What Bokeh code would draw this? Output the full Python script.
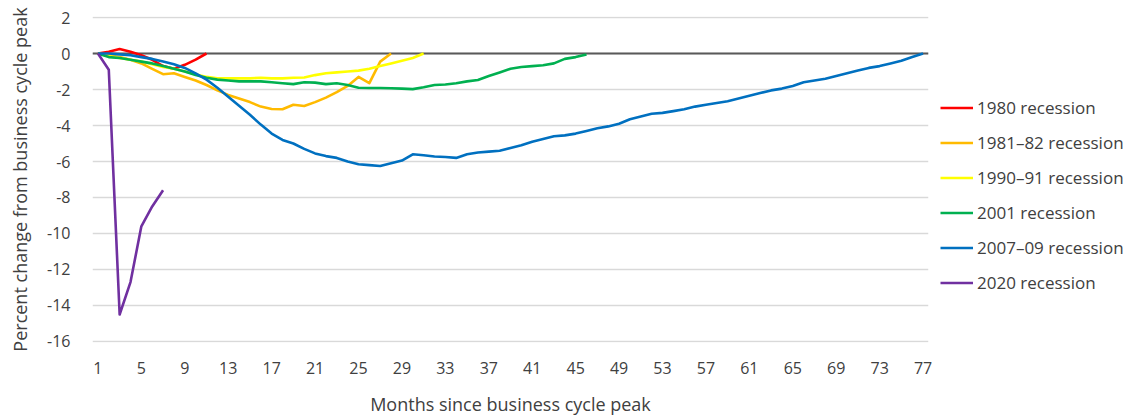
from bokeh.plotting import figure
from bokeh.models import Span, FixedTicker, Legend, LegendItem, Range1d
from bokeh.embed import file_html
from bokeh.resources import INLINE

# ---- data: percent change from business-cycle peak, by month since peak ----
rec_1980 = [0, 0.1, 0.25, 0.1, -0.1, -0.35, -0.7, -0.85, -0.63, -0.34, 0.0]
rec_1981 = [0, -0.1, -0.2, -0.35, -0.55, -0.85, -1.15, -1.1, -1.3, -1.5,
            -1.75, -2.05, -2.3, -2.5, -2.7, -2.95, -3.08, -3.1, -2.85, -2.92,
            -2.7, -2.45, -2.15, -1.8, -1.3, -1.65, -0.45, 0.0]
rec_1990 = [0, -0.15, -0.25, -0.35, -0.45, -0.6, -0.75, -0.85, -1.0, -1.15,
            -1.3, -1.38, -1.38, -1.38, -1.38, -1.35, -1.38, -1.38, -1.35, -1.33,
            -1.2, -1.1, -1.05, -1.0, -0.95, -0.85, -0.7, -0.55, -0.4, -0.25, 0.0]
rec_2001 = [0, -0.2, -0.25, -0.35, -0.45, -0.55, -0.7, -0.85, -1.0, -1.2,
            -1.35, -1.45, -1.5, -1.55, -1.55, -1.55, -1.6, -1.65, -1.7, -1.6,
            -1.62, -1.7, -1.65, -1.75, -1.9, -1.92, -1.92, -1.93, -1.95, -1.98,
            -1.88, -1.75, -1.72, -1.65, -1.55, -1.47, -1.25, -1.05, -0.85, -0.75,
            -0.7, -0.65, -0.55, -0.3, -0.2, -0.05]
rec_2007 = [0, 0.0, -0.05, -0.1, -0.2, -0.3, -0.45, -0.6, -0.8, -1.1,
            -1.45, -1.9, -2.4, -2.9, -3.4, -3.95, -4.45, -4.8, -5.0, -5.3,
            -5.55, -5.7, -5.8, -6.0, -6.15, -6.2, -6.25, -6.1, -5.95, -5.6,
            -5.65, -5.72, -5.75, -5.8, -5.6, -5.5, -5.45, -5.4, -5.25, -5.1,
            -4.9, -4.75, -4.6, -4.55, -4.45, -4.3, -4.15, -4.05, -3.9, -3.65,
            -3.5, -3.35, -3.3, -3.2, -3.1, -2.95, -2.85, -2.75, -2.65, -2.5,
            -2.35, -2.2, -2.05, -1.95, -1.8, -1.6, -1.5, -1.4, -1.25, -1.1,
            -0.95, -0.8, -0.7, -0.55, -0.4, -0.2, 0.0]
rec_2020 = [0, -0.9, -14.5, -12.7, -9.6, -8.5, -7.6]

series_names = ["1980 recession", "1981\u201382 recession", "1990\u201391 recession",
                "2001 recession", "2007\u201309 recession", "2020 recession"]
series_values = [rec_1980, rec_1981, rec_1990, rec_2001, rec_2007, rec_2020]
series_colors = ["#FF0000", "#FFBA00", "#FFFF00", "#00B050", "#0070C0", "#7030A0"]

x_ticks = list(range(1, 78, 4))
y_ticks = list(range(-16, 3, 2))

FONT = "Open Sans"
TXT = "#404040"

p = figure(frame_width=836, frame_height=326, output_backend="svg",
           toolbar_location=None,
           x_range=Range1d(0.5, 77.5), y_range=Range1d(-16.0556, 2.0556),
           min_border_left=92, min_border_right=200, min_border_top=16,
           min_border_bottom=72)
p.outline_line_color = None
p.background_fill_color = "white"

p.xgrid.grid_line_color = None
p.ygrid.ticker = FixedTicker(ticks=y_ticks)
p.ygrid.grid_line_color = "#D9D9D9"
p.ygrid.grid_line_width = 1.5

for ax in (p.xaxis[0], p.yaxis[0]):
    ax.axis_line_color = None
    ax.major_tick_line_color = None
    ax.minor_tick_line_color = None
    ax.major_label_text_font = FONT
    ax.major_label_text_font_size = "16px"
    ax.major_label_text_color = TXT
    ax.axis_label_text_font = FONT
    ax.axis_label_text_font_size = "18px"
    ax.axis_label_text_font_style = "normal"
    ax.axis_label_text_color = TXT

p.xaxis.ticker = FixedTicker(ticks=x_ticks)
p.xaxis.major_label_standoff = 13
p.xaxis.axis_label = "Months since business cycle peak"
p.xaxis.axis_label_standoff = 15

p.yaxis.ticker = FixedTicker(ticks=y_ticks)
p.yaxis.major_label_overrides = {v: str(v) for v in y_ticks}
p.yaxis.major_label_standoff = 16
p.yaxis.axis_label = "Percent change from business cycle peak"
p.yaxis.axis_label_standoff = 12

zero = Span(location=0, dimension="width", line_color="#595959", line_width=2,
            level="underlay")
p.add_layout(zero)

items = []
for name, vals, col in zip(series_names, series_values, series_colors):
    months = list(range(1, len(vals) + 1))
    r = p.line(months, vals, line_color=col, line_width=2.6, line_join="round")
    items.append(LegendItem(label=name, renderers=[r]))

legend = Legend(items=items, location=(12, 48), orientation="vertical",
                glyph_width=33, glyph_height=21, label_height=21, spacing=12,
                label_standoff=4, padding=0, margin=0,
                label_text_font=FONT, label_text_font_size="17px",
                label_text_color=TXT, background_fill_alpha=0,
                border_line_color=None)
p.add_layout(legend, "right")

open("out.html", "w").write(file_html(p, INLINE))
